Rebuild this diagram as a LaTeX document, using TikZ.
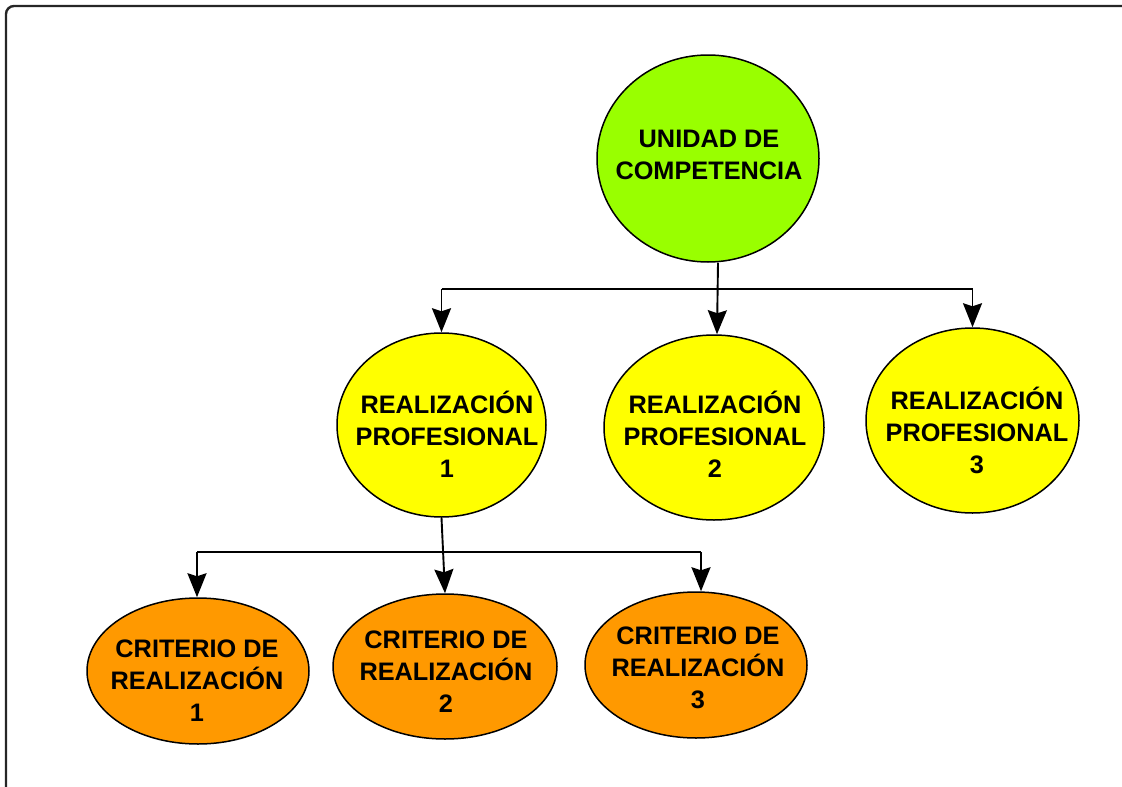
\documentclass[tikz,border=0pt]{standalone}
\usepackage{fontspec}
\setmainfont{Liberation Sans}
\usetikzlibrary{shapes.geometric,arrows.meta}
\definecolor{cgreen}{HTML}{99FF00}
\definecolor{cyellow}{HTML}{FFFF00}
\definecolor{corange}{HTML}{FF9900}
\newcommand\stackc[1]{\vtop{\halign{\hfil##\hfil\cr#1\crcr}}}
\tikzset{
  oval/.style={ellipse, draw=black, line width=1.5pt, inner sep=0pt},
  lbl/.style={anchor=base, inner sep=0pt, font=\fontsize{25.3}{32}\selectfont\bfseries},
  conn/.style={draw=black, line width=1.9pt},
  arr/.style={conn, -{Stealth[length=24pt, width=19pt, inset=3pt]}},
}
\begin{document}
\begin{tikzpicture}[x=1pt, y=-1pt]
\useasboundingbox (0,0) rectangle (1122,787);
\draw[line width=2.4pt, draw=black!85, rounded corners=8pt] (6,6) rectangle (1140,805);

% ellipses
\node[oval, fill=cgreen, minimum width=222pt, minimum height=207pt] (uc) at (708,158.5) {};
\node[oval, fill=cyellow, minimum width=209pt, minimum height=184pt] (rp1) at (441.5,425) {};
\node[oval, fill=cyellow, minimum width=220pt, minimum height=185pt] (rp2) at (714,427.5) {};
\node[oval, fill=cyellow, minimum width=213pt, minimum height=185pt] (rp3) at (972.5,420.5) {};
\node[oval, fill=corange, minimum width=222pt, minimum height=146pt] (cr1) at (198,671) {};
\node[oval, fill=corange, minimum width=224pt, minimum height=145pt] (cr2) at (445,666.5) {};
\node[oval, fill=corange, minimum width=222pt, minimum height=146pt] (cr3) at (696,665) {};

% texts
\node[lbl] (tuc) at (709,147) {\stackc{UNIDAD DE\cr COMPETENCIA}};
\node[lbl] (trp1) at (447,413) {\stackc{REALIZACIÓN\cr PROFESIONAL\cr 1}};
\node[lbl] (trp2) at (715,413) {\stackc{REALIZACIÓN\cr PROFESIONAL\cr 2}};
\node[lbl] (trp3) at (977,409) {\stackc{REALIZACIÓN\cr PROFESIONAL\cr 3}};
\node[lbl] (tcr1) at (197,657) {\stackc{CRITERIO DE\cr REALIZACIÓN\cr 1}};
\node[lbl] (tcr2) at (446,648) {\stackc{CRITERIO DE\cr REALIZACIÓN\cr 2}};
\node[lbl] (tcr3) at (698,644) {\stackc{CRITERIO DE\cr REALIZACIÓN\cr 3}};

% connectors level 1
\coordinate (j1) at (0,289);
\coordinate (j2) at (0,552);
\draw[conn] (rp1.north |- j1) -- (rp3.north |- j1);
\draw[arr] ([xshift=10pt]uc.south) -- ([xshift=3pt]rp2.north);
\draw[arr] (rp1.north |- j1) -- (rp1.north);
\draw[arr] (rp3.north |- j1) -- (rp3.north);

% connectors level 2
\draw[conn] ([xshift=-1pt]cr1.north |- j2) -- ([xshift=5pt]cr3.north |- j2);
\draw[arr] (rp1.south) -- (cr2.north);
\draw[arr] ([xshift=-1pt]cr1.north |- j2) -- ([xshift=-1pt]cr1.north);
\draw[arr] ([xshift=5pt]cr3.north |- j2) -- ([xshift=5pt]cr3.north);
\end{tikzpicture}
\end{document}
